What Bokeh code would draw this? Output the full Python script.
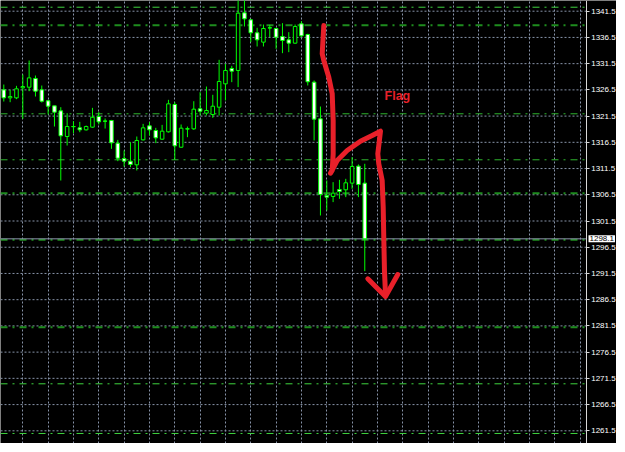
import numpy as np
from bokeh.plotting import figure
from bokeh.models import FixedTicker, Label, PrintfTickFormatter, ColumnDataSource, Range1d
from bokeh.core.properties import value
from bokeh.embed import file_html
from bokeh.resources import INLINE

# ---- candle data (one bar per period, oldest first) ----
opens = [1326.51, 1324.98, 1324.98, 1326.89, 1327.01, 1328.67, 1326.51, 1324.41, 1323.45, 1322.50,
         1317.61, 1319.50, 1319.26, 1318.88, 1319.39, 1321.42, 1320.53, 1320.66, 1316.34, 1313.41,
         1312.91, 1312.21, 1316.97, 1319.64, 1318.75, 1317.10, 1318.50, 1323.71, 1315.57, 1319.07,
         1319.07, 1322.89, 1322.06, 1321.81, 1323.20, 1327.65, 1330.58, 1330.20, 1341.19, 1339.85,
         1337.38, 1335.60, 1338.33, 1338.20, 1336.68, 1336.04, 1335.41, 1339.09, 1337.06, 1327.97,
         1320.98, 1306.37, 1306.18, 1307.51, 1307.45, 1308.72, 1311.96, 1308.72]
highs = [1327.52, 1326.51, 1327.27, 1329.43, 1332.10, 1329.24, 1327.33, 1324.60, 1323.45, 1323.20,
         1322.06, 1320.53, 1320.40, 1319.70, 1323.07, 1322.25, 1321.04, 1320.78, 1316.97, 1314.94,
         1316.53, 1317.61, 1320.02, 1320.34, 1319.26, 1319.83, 1324.60, 1324.15, 1319.90, 1319.51,
         1324.34, 1326.06, 1327.14, 1325.56, 1332.23, 1331.47, 1331.08, 1344.00, 1343.80, 1340.04,
         1338.33, 1338.96, 1338.90, 1338.33, 1339.22, 1337.50, 1338.96, 1339.60, 1337.19, 1328.29,
         1323.33, 1309.23, 1308.91, 1309.35, 1309.54, 1313.67, 1312.28, 1312.41]
lows = [1324.28, 1324.15, 1324.73, 1320.98, 1326.25, 1325.23, 1324.09, 1321.80, 1319.51, 1309.22,
        1315.89, 1318.24, 1318.43, 1318.75, 1319.26, 1319.90, 1319.13, 1315.26, 1312.91, 1311.89,
        1311.76, 1311.13, 1316.85, 1317.80, 1316.34, 1316.97, 1318.37, 1313.16, 1315.45, 1317.48,
        1318.88, 1321.62, 1321.62, 1321.17, 1321.62, 1324.48, 1327.97, 1327.02, 1338.58, 1335.60,
        1334.77, 1334.77, 1336.55, 1334.33, 1333.50, 1333.69, 1335.28, 1336.55, 1327.34, 1316.85,
        1302.55, 1303.51, 1305.10, 1305.73, 1306.05, 1307.64, 1306.05, 1291.94]
closes = [1324.98, 1325.23, 1326.70, 1327.14, 1328.79, 1326.25, 1324.34, 1323.39, 1322.25, 1317.74,
          1319.51, 1319.50, 1318.88, 1319.51, 1321.29, 1320.40, 1320.53, 1316.40, 1313.48, 1312.91,
          1312.27, 1316.85, 1319.26, 1318.88, 1317.35, 1318.63, 1323.84, 1315.83, 1319.20, 1319.07,
          1322.82, 1322.44, 1322.57, 1323.39, 1328.10, 1330.20, 1330.07, 1341.13, 1340.04, 1337.38,
          1336.04, 1338.20, 1338.33, 1336.55, 1335.91, 1335.41, 1338.58, 1336.80, 1328.04, 1320.92,
          1306.56, 1306.05, 1306.81, 1307.13, 1308.78, 1311.90, 1308.46, 1298.10]

# ---- price axis tick labels ----
price_ticks = [1261.5, 1266.5, 1271.5, 1276.5, 1281.5, 1286.5, 1291.5, 1296.5, 1301.5,
               1306.5, 1311.5, 1316.5, 1321.5, 1326.5, 1331.5, 1336.5, 1341.5]

# ---- horizontal level lines drawn on the chart ----
level_prices = [1342.26, 1338.83, 1321.94, 1313.17, 1306.80, 1297.92, 1281.25, 1270.46, 1260.99]
level_kind = ["bright", "dark", "mid", "mid", "dark", "dark", "dark", "bright", "bright"]

bid_price = 1298.1
bid_text = "1298.1"

# ---- hand-drawn red arrow (bar index, price) ----
arrow_x = [50.53, 50.28, 50.53, 51.32, 51.86, 52.01, 52.01, 51.86, 51.59, 52.64, 54.22, 56.32,
           58.17, 59.48, 59.06, 59.21, 59.75, 59.91, 60.00, 60.11, 60.27]
arrow_y = [1338.77, 1333.38, 1332.10, 1328.92, 1325.75, 1320.66, 1314.31, 1311.13, 1310.61,
           1313.03, 1314.94, 1316.71, 1317.80, 1318.62, 1314.31, 1312.41, 1309.22, 1304.13,
           1298.41, 1292.06, 1287.62]
head_x = [57.48, 60.27, 62.21]
head_y = [1290.48, 1287.11, 1291.30]
flag_x = [60.12]
flag_y = [1325.24]
flag_text = ["Flag"]

# ---------------------------------------------------------------
X0, X1 = -0.521, 96.75        # bar-index range across the whole chart window
AXIS_X = 91.97                # bar-index position of the price scale line
Y0, Y1 = 1259.08, 1343.54

n = len(opens)
idx = np.arange(n)
o = np.array(opens); c = np.array(closes); h = np.array(highs); l = np.array(lows)
top = np.maximum(o, c); bottom = np.minimum(o, c)
fill = ["white" if cc < oo else "black" for oo, cc in zip(o, c)]
src = ColumnDataSource(dict(x=idx, o=o, h=h, l=l, c=c, top=top, bottom=bottom, fill=fill))

p = figure(frame_width=616, frame_height=443,
           x_range=Range1d(X0, X1), y_range=Range1d(Y0, Y1),
           x_axis_location=None, y_axis_location="right",
           output_backend="svg", toolbar_location=None,
           background_fill_color="black", border_fill_color="black",
           min_border_left=0, min_border_top=0, min_border_bottom=0, min_border_right=0,
           outline_line_color=None)

grid_col = "#8793a8"
p.ygrid.visible = False
p.xgrid.ticker = FixedTicker(ticks=list(range(3, 92, 4)))
p.xgrid.grid_line_color = grid_col
p.xgrid.grid_line_dash = "2 2"

# horizontal price grid, stopping at the price scale
p.segment(x0=[X0] * len(price_ticks), y0=price_ticks, x1=[AXIS_X] * len(price_ticks), y1=price_ticks,
          line_color=grid_col, line_width=1, line_dash="2 2")

ax = p.yaxis[0]
ax.fixed_location = AXIS_X
ax.ticker = FixedTicker(ticks=price_ticks)
ax.formatter = PrintfTickFormatter(format="%.1f")
ax.axis_line_color = "#d8d8d8"
ax.major_tick_line_color = "#d8d8d8"
ax.major_tick_out = 3
ax.major_tick_in = 0
ax.minor_tick_line_color = None
ax.major_label_text_color = "white"
ax.major_label_text_font = "Liberation Sans"
ax.major_label_text_font_size = "8px"
ax.major_label_standoff = 2

kind_style = {"bright": ("#3fd43f", 1), "mid": ("#2fb52f", 1), "dark": ("#1e8c1e", 2)}
for k in ["bright", "mid", "dark"]:
    ys = [pr for pr, kk in zip(level_prices, level_kind) if kk == k]
    col, w = kind_style[k]
    p.segment(x0=[X0] * len(ys), y0=ys, x1=[AXIS_X] * len(ys), y1=ys,
              line_color=col, line_width=w, line_dash="7 5 2 5")

p.segment(x0=[X0], y0=[bid_price], x1=[AXIS_X], y1=[bid_price], line_color="#8c98ac", line_width=1)

lime = "#00ff00"
p.segment(x0="x", y0="l", x1="x", y1="h", line_color=lime, line_width=1, source=src)
p.vbar(x="x", width=0.56, top="top", bottom="bottom", fill_color="fill",
       line_color=lime, line_width=1, source=src)
doji = [i for i in range(n) if o[i] == c[i]]
p.segment(x0=[i - 0.3 for i in doji], y0=[o[i] for i in doji],
          x1=[i + 0.3 for i in doji], y1=[o[i] for i in doji], line_color=lime, line_width=1)

red = "#e8202a"
p.line(arrow_x, arrow_y, line_color=red, line_width=5, line_join="round", line_cap="round")
p.line(head_x, head_y, line_color=red, line_width=5, line_join="round", line_cap="round")
p.text(x=flag_x, y=flag_y, text=flag_text, text_color=red, text_font=value("Liberation Sans"),
       text_font_size="12.5px", text_font_style="bold",
       text_baseline="alphabetic", text_align="left")

p.add_layout(Label(x=92.33, y=bid_price, text=bid_text, text_color="black",
                   text_font="Liberation Sans", text_font_size="8px",
                   text_baseline="middle", text_align="left",
                   background_fill_color="white", padding=1))

open("out.html", "w").write(file_html(p, INLINE))
